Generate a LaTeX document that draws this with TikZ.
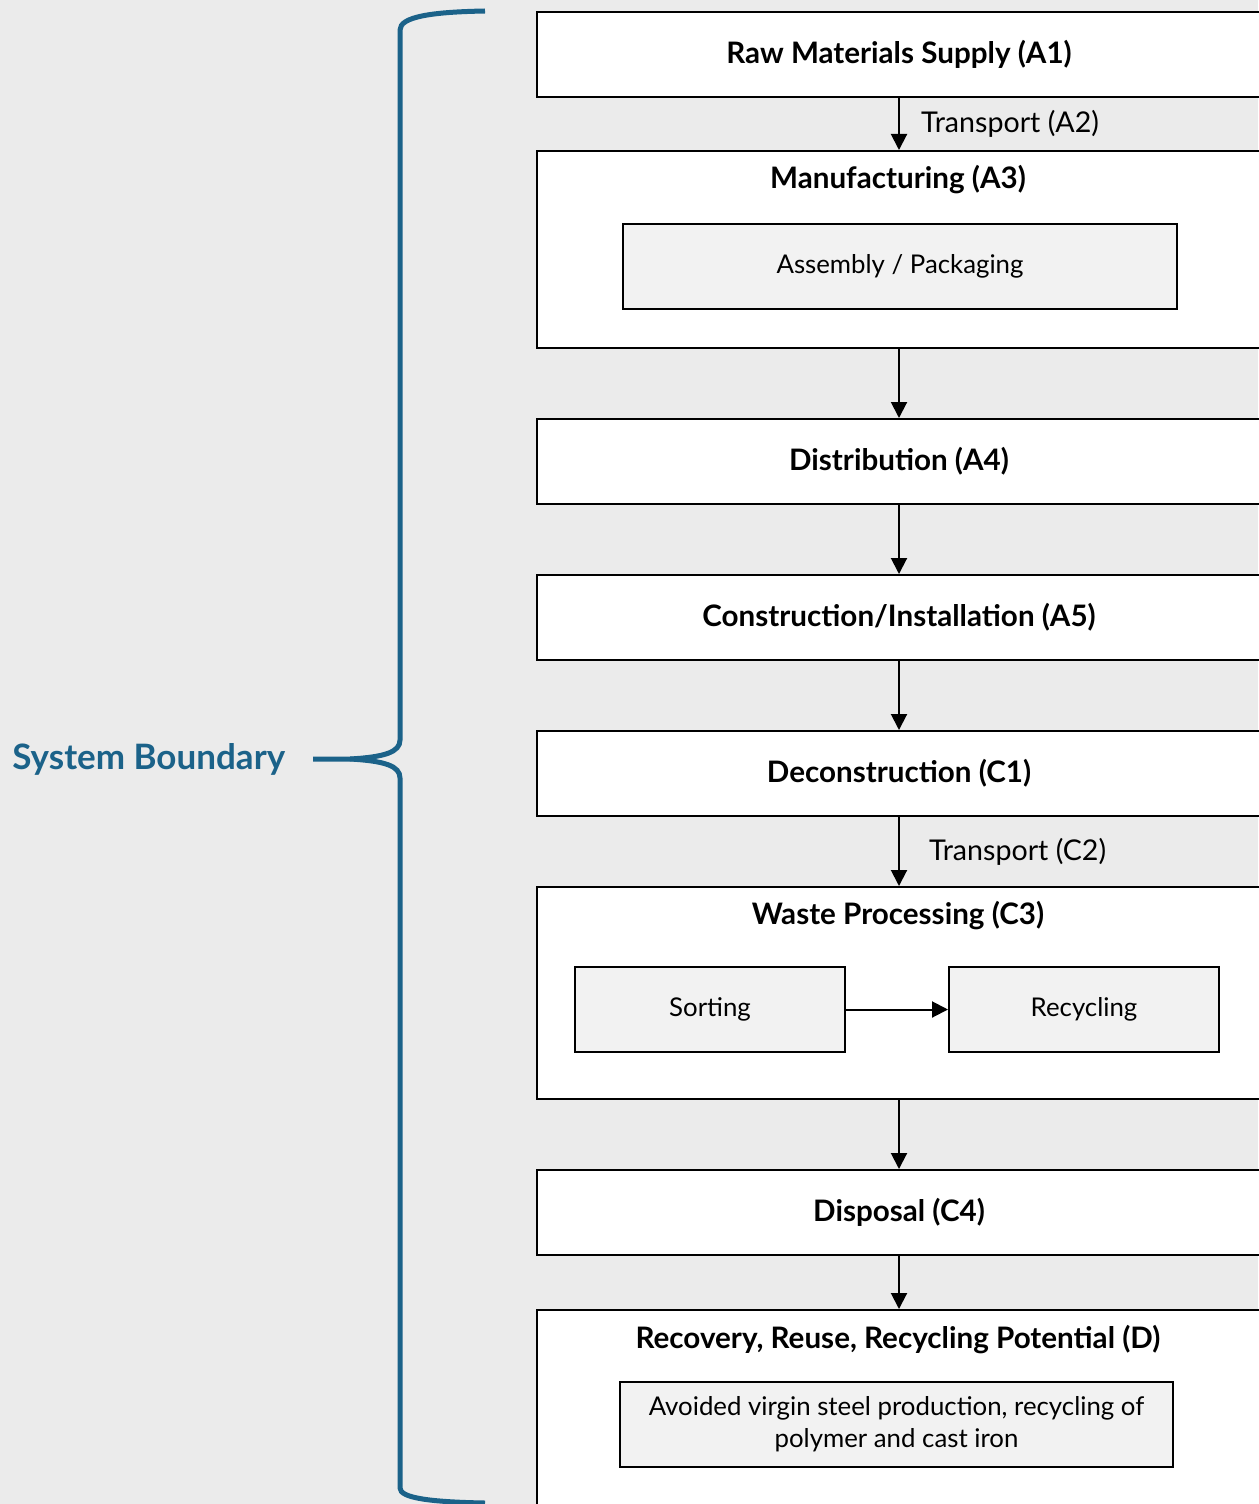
\documentclass[tikz,border=0pt]{standalone}
\usepackage{fontspec}
\setmainfont{Lato}
\usetikzlibrary{arrows.meta}

\definecolor{bggray}{HTML}{EBEBEB}
\definecolor{subgray}{HTML}{F2F2F2}
\definecolor{bound}{HTML}{1B6289}

\tikzset{
  stage/.style={rectangle, draw=black, fill=white, line width=1pt, inner sep=0pt,
    minimum width=362pt, minimum height=42.5pt, anchor=north west, font=\fontsize{14.8}{17}\selectfont\bfseries},
  title/.style={inner sep=0pt, font=\fontsize{14.8}{17}\selectfont\bfseries},
  substage/.style={rectangle, draw=black, fill=subgray, line width=1pt, inner sep=0pt,
    minimum height=42.5pt, anchor=north west, align=center, font=\fontsize{12.9}{16}\selectfont},
  flow/.style={-{Triangle[length=8pt,width=8pt]}, line width=1pt},
  flowlabel/.style={anchor=west, inner sep=0pt, xshift=10.5pt, font=\fontsize{14.3}{16}\selectfont},
}

\begin{document}
\begin{tikzpicture}[x=0.5pt,y=-0.5pt]
  \useasboundingbox[fill=bggray] (0,0) rectangle (1258,1504);

  % stages
  \node[stage] (a1) at (536,11) {Raw Materials Supply (A1)};
  \node[stage, minimum height=98.5pt] (a3) at (536,150) {};
  \node[title] (a3t) at (898,180) {Manufacturing (A3)};
  \node[substage, minimum width=277pt] (a3s) at (622,223) {Assembly / Packaging};
  \node[stage] (a4) at (536,418) {Distribution (A4)};
  \node[stage] (a5) at (536,574) {Construction/Installation (A5)};
  \node[stage] (c1) at (536,730) {Deconstruction (C1)};
  \node[stage, minimum height=106pt] (c3) at (536,886) {};
  \node[title] (c3t) at (898,916) {Waste Processing (C3)};
  \node[substage, minimum width=135pt] (sort) at (574,966) {Sorting};
  \node[substage, minimum width=135pt] (recy) at (948,966) {Recycling};
  \node[stage] (c4) at (536,1169) {Disposal (C4)};
  \node[stage, minimum height=110pt] (d) at (536,1309) {};
  \node[title] (dt) at (898,1340) {Recovery, Reuse, Recycling Potential (D)};
  \node[substage, minimum width=276.5pt] (ds) at (619,1381) {Avoided virgin steel production, recycling of\\polymer and cast iron};

  % flows
  \draw[flow] (a1) -- node[flowlabel] {Transport (A2)} (a3);
  \draw[flow] (a3) -- (a4);
  \draw[flow] (a4) -- (a5);
  \draw[flow] (a5) -- (c1);
  \draw[flow] (c1) -- node[flowlabel, xshift=4pt] {Transport (C2)} (c3);
  \draw[flow] (sort) -- (recy);
  \draw[flow] (c3) -- (c4);
  \draw[flow] (c4) -- (d);

  % system boundary
  \node[anchor=west, inner sep=0pt, text=bound, font=\fontsize{17.5}{20}\selectfont\bfseries] (sb) at (12,759) {System Boundary};
  \draw[bound, line width=2.5pt]
    (485,11) .. controls (430,12) and (400,17) .. (400,30) -- (400,740)
    .. controls (400,752) and (385,757) .. (350,759) -- (313,759);
  \draw[bound, line width=2.5pt]
    (350,759) .. controls (385,761) and (400,766) .. (400,778) -- (400,1488)
    .. controls (400,1498) and (430,1502) .. (485,1503);
\end{tikzpicture}
\end{document}
